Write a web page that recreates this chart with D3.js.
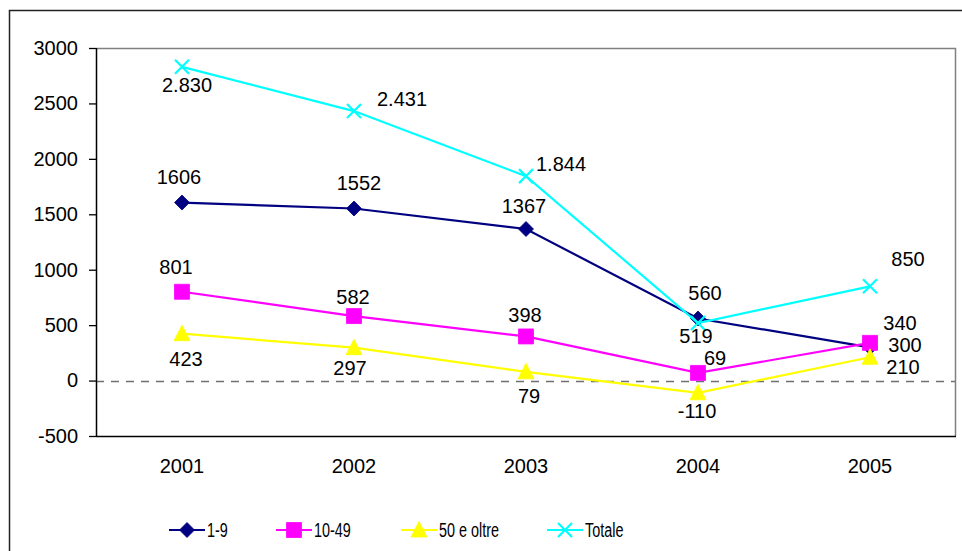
<!DOCTYPE html>
<html>
<head>
<meta charset="utf-8">
<script src="https://cdn.jsdelivr.net/npm/d3@7"></script>
<style>
  html, body { margin: 0; padding: 0; background: #fff; }
  svg { display: block; font-family: "Liberation Sans", Arial, sans-serif; }
</style>
</head>
<body>
<svg id="chart" width="962" height="551"></svg>
<script>
// ---- data ----
const years = ["2001", "2002", "2003", "2004", "2005"];
const seriesNames = ["1-9", "10-49", "50 e oltre", "Totale"];
const v1to9 = [1606, 1552, 1367, 560, 300];
const v10to49 = [801, 582, 398, 69, 340];
const v50plus = [423, 297, 79, -110, 210];
const vTotale = [2830, 2431, 1844, 519, 850];
const yTicks = [-500, 0, 500, 1000, 1500, 2000, 2500, 3000];

// ---- layout / style ----
const plot = { left: 96, right: 956, top: 48, bottom: 436 };
const colors = ["#000080", "#FF00FF", "#FFFF00", "#00FFFF"];
const markers = ["diamond", "square", "triangle", "cross"];

// per-point label placement (pixel offsets from the marker: label centre x, baseline y)
const labelOffsets = [
  [[-3, -19], [5, -19], [-2, -16], [7, -18], [35, 5]],
  [[-6, -18], [-1, -12], [-1, -14], [17, -8], [30, -13]],
  [[4, 32], [-4, 27], [3, 31], [-1, 25], [33, 17]],
  [[5, 25], [48, -5], [35, -5], [-2, 20], [38, -20]]
];

// Italian number style with a plain hyphen for negatives
const itLocale = d3.formatLocale({ decimal: ",", thousands: ".", grouping: [3], currency: ["", "€"], minus: "-" });
const plain = itLocale.format("d");
const grouped = itLocale.format(",d");
const formats = [plain, plain, plain, grouped];

const seriesValues = [v1to9, v10to49, v50plus, vTotale];

const svg = d3.select("#chart");

// chart frame
svg.append("path")
  .attr("d", "M9.5,551 L9.5,10.5 L962,10.5")
  .attr("fill", "none").attr("stroke", "#222").attr("stroke-width", 1.5);

const x = d3.scaleBand().domain(years).range([plot.left, plot.right]).padding(0);
const y = d3.scaleLinear().domain([-500, 3000]).range([plot.bottom, plot.top]);
const cx = d => x(d) + x.bandwidth() / 2;

// plot area border (top & right, grey)
svg.append("path")
  .attr("d", `M${plot.left},${plot.top + 0.5} L${plot.right - 0.5},${plot.top + 0.5} L${plot.right - 0.5},${plot.bottom}`)
  .attr("fill", "none").attr("stroke", "#808080").attr("stroke-width", 1.5);

// zero reference line
svg.append("line")
  .attr("x1", plot.left).attr("x2", plot.right - 1)
  .attr("y1", Math.round(y(0)) + 0.5).attr("y2", Math.round(y(0)) + 0.5)
  .attr("stroke", "#707070").attr("stroke-width", 1.3)
  .attr("stroke-dasharray", "8,7");

// y axis
const yAxis = svg.append("g")
  .attr("transform", `translate(${plot.left},0)`)
  .call(d3.axisLeft(y).tickValues(yTicks).tickSize(7).tickPadding(11).tickFormat(plain));
yAxis.selectAll("text").attr("font-size", "20px").attr("fill", "#000")
  .attr("font-family", "'Liberation Sans', Arial, sans-serif");
yAxis.selectAll("line").attr("stroke", "#000").attr("stroke-width", 1.3);
yAxis.select(".domain").attr("stroke", "#000").attr("stroke-width", 1.5).attr("d", `M0.5,${plot.top}V${plot.bottom}`);

// x axis
const xAxis = svg.append("g")
  .attr("transform", `translate(0,${plot.bottom})`)
  .call(d3.axisBottom(x).tickSize(0).tickPadding(23));
xAxis.selectAll("text").attr("font-size", "20px").attr("fill", "#000")
  .attr("font-family", "'Liberation Sans', Arial, sans-serif");
xAxis.select(".domain").attr("stroke", "#000").attr("stroke-width", 1.5)
  .attr("d", `M${plot.left},0.5H${plot.right}`);

// marker shapes
function markerPath(kind) {
  switch (kind) {
    case "diamond": return "M0,-7.5L7.5,0L0,7.5L-7.5,0Z";
    case "square": return "M-7.5,-7.5H7.5V7.5H-7.5Z";
    case "triangle": return "M0,-8.5L8,7L-8,7Z";
    case "cross": return "M-7,-7L7,7M-7,7L7,-7";
  }
}
function drawMarker(g, kind, color) {
  const p = g.append("path").attr("d", markerPath(kind));
  if (kind === "cross") p.attr("fill", "none").attr("stroke", color).attr("stroke-width", 2.2);
  else p.attr("fill", color).attr("stroke", color).attr("stroke-width", 0.8);
}

const line = d3.line().x(d => cx(d.year)).y(d => y(d.value));

seriesValues.forEach((vals, si) => {
  const pts = years.map((yr, i) => ({ year: yr, value: vals[i] }));
  const g = svg.append("g").attr("class", "series");
  g.append("path").datum(pts)
    .attr("d", line).attr("fill", "none")
    .attr("stroke", colors[si]).attr("stroke-width", 2.2);
  pts.forEach(p => {
    const mg = g.append("g").attr("transform", `translate(${cx(p.year)},${y(p.value)})`);
    drawMarker(mg, markers[si], colors[si]);
  });
});

// data labels
seriesValues.forEach((vals, si) => {
  years.forEach((yr, i) => {
    const off = labelOffsets[si][i];
    svg.append("text")
      .attr("x", cx(yr) + off[0])
      .attr("y", y(vals[i]) + off[1])
      .attr("text-anchor", "middle")
      .attr("font-size", "20px").attr("fill", "#000")
      .text(formats[si](vals[i]));
  });
});

// legend
const legendX = [187, 294, 419, 565];
const legendY = 530;
seriesNames.forEach((name, si) => {
  const g = svg.append("g").attr("transform", `translate(${legendX[si]},${legendY})`);
  g.append("line").attr("x1", -18).attr("x2", 18).attr("y1", 0).attr("y2", 0)
    .attr("stroke", colors[si]).attr("stroke-width", 2.2);
  drawMarker(g, markers[si], colors[si]);
  g.append("text")
    .attr("transform", "translate(20,7) scale(0.72,1.05)")
    .attr("font-size", "20px").attr("fill", "#000")
    .text(name);
});
</script>
</body>
</html>
